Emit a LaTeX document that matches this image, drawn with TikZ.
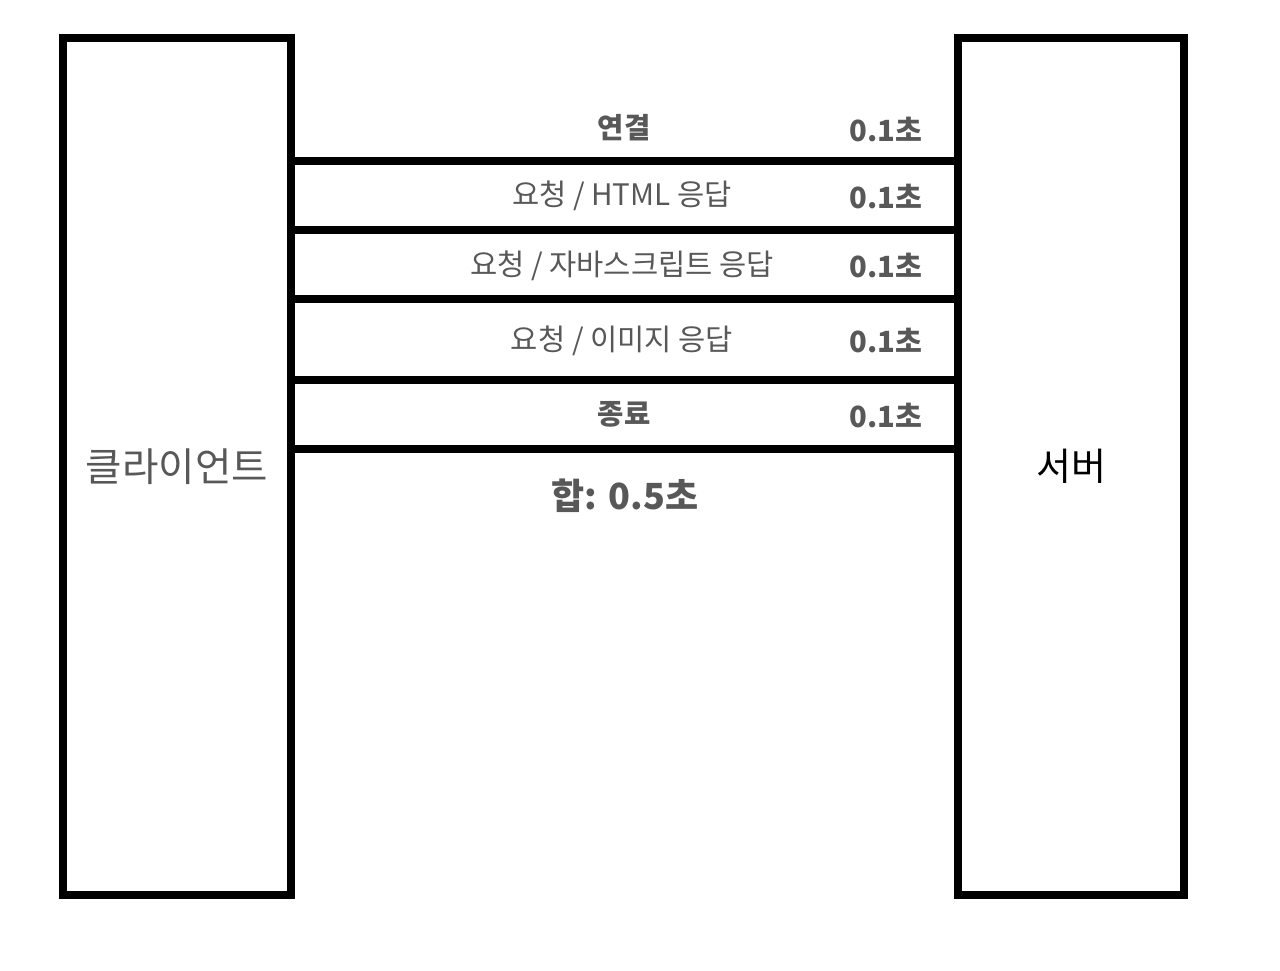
\documentclass[tikz,border=0pt]{standalone}
\usepackage{fontspec}
\setmainfont{Noto Sans CJK KR}
\usetikzlibrary{positioning}
\definecolor{labelgray}{RGB}{88, 88, 88}
\tikzset{
  side/.style={draw,rectangle,line width=3.8pt,minimum height=428.5pt},
  sep/.style={line width=3.8pt},
  task/.style={text=labelgray,font=\fontsize{14.8pt}{17pt}\selectfont},
  time/.style={text=labelgray,font=\fontsize{14.6pt}{17pt}\selectfont\bfseries},
}

\begin{document}
\begin{tikzpicture}[x=0.5pt,y=-0.5pt]
      \useasboundingbox (0,0) rectangle (1280,970);
      \node[side,minimum width=114pt] (client) at (177,466.5) {};
      \node[side,minimum width=113pt] (server) at (1071,466.5) {};
      \node[text=labelgray,font=\fontsize{19.8pt}{22pt}\selectfont] (clientname) at (client) {클라이언트};
      \node[font=\fontsize{19pt}{22pt}\selectfont] (servername) at (server) {서버};

      \foreach \y in {161,230,299,380,449}
        \draw[sep] (client.east |- 0,\y) -- (server.west |- 0,\y);

      \node[task,font=\fontsize{14.3pt}{17pt}\selectfont\bfseries] (t1) at (624,128) {연결};
      \node[task] (t2) at (622,196) {요청 / HTML 응답};
      \node[task] (t3) at (622,266) {요청 / 자바스크립트 응답};
      \node[task] (t4) at (622,341) {요청 / 이미지 응답};
      \node[task,font=\fontsize{14.3pt}{17pt}\selectfont\bfseries] (t5) at (624,414) {종료};

      \node[time] (d1) at (886,130) {0.1초};
      \node[time] (d2) at (886,197) {0.1초};
      \node[time] (d3) at (886,266) {0.1초};
      \node[time] (d4) at (886,341) {0.1초};
      \node[time] (d5) at (886,416) {0.1초};

      \node[time,font=\fontsize{18pt}{20pt}\selectfont\bfseries] (total) at (625,496) {합: 0.5초};
    \end{tikzpicture}
\end{document}
